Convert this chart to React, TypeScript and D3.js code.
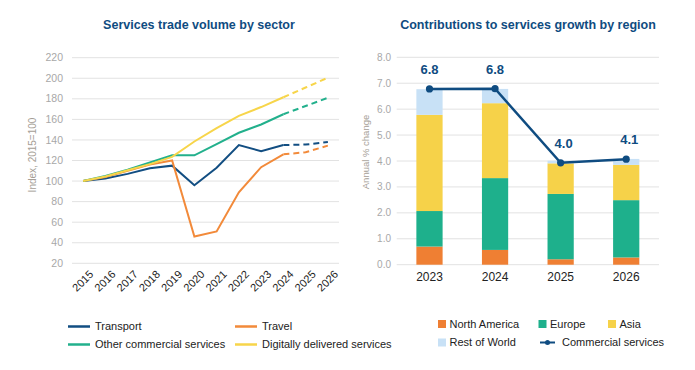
import * as d3 from "d3";

// left chart: index, 2015=100
const years = ["2015", "2016", "2017", "2018", "2019", "2020", "2021", "2022", "2023", "2024", "2025", "2026"];
const transport = [100, 102.5, 107, 112.5, 115, 96, 113, 135, 129, 135, 135.5, 138];
const travel = [100, 104, 110, 116, 120, 46, 51, 89, 113.5, 126, 128, 134.5];
const otherCommercial = [100, 105, 111, 118, 125, 125, 136, 147, 155, 165, 173, 181];
const digital = [100, 104.5, 110.5, 116.5, 123.5, 138.5, 151.5, 163.5, 172, 181.5, 191, 200.5];
const leftTicks = [20, 40, 60, 80, 100, 120, 140, 160, 180, 200, 220];
const forecastFrom = "2024";

// right chart: contributions, annual % change
const regionYears = ["2023", "2024", "2025", "2026"];
const northAmerica = [0.7, 0.57, 0.21, 0.28];
const europe = [1.37, 2.77, 2.52, 2.21];
const asia = [3.71, 2.89, 1.18, 1.36];
const restOfWorld = [0.99, 0.55, 0.1, 0.23];
const commercial = [6.78, 6.79, 3.93, 4.07];
const commercialLabels = ["6.8", "6.8", "4.0", "4.1"];
const rightTicks = [0, 1, 2, 3, 4, 5, 6, 7, 8];

const FONT = "'Liberation Sans', Arial, sans-serif";
const NAVY = "#0f4c81";
const GRID = "#e2e2e2";
const TICK = "#a8a8a8";
const TEXT = "#222";

const lineSeries = [
  { name: "Transport", values: transport, color: "#124e82" },
  { name: "Travel", values: travel, color: "#f28a3a" },
  { name: "Other commercial services", values: otherCommercial, color: "#22b08c" },
  { name: "Digitally delivered services", values: digital, color: "#f7d54a" },
];

const regions = [
  { key: "na", name: "North America", values: northAmerica, color: "#ef7f33" },
  { key: "eu", name: "Europe", values: europe, color: "#1eb08c" },
  { key: "asia", name: "Asia", values: asia, color: "#f6d249" },
  { key: "row", name: "Rest of World", values: restOfWorld, color: "#c8e1f6" },
];

function LeftChart() {
  const x = d3.scalePoint<string>().domain(years).range([72, 339]).padding(0.5);
  const y = d3.scaleLinear().domain([20, 220]).range([263.3, 57.7]);
  const split = years.indexOf(forecastFrom);
  const line = d3
    .line<[string, number]>()
    .x((d) => x(d[0])!)
    .y((d) => y(d[1]));

  return (
    <g>
      <text x={199} y={29} textAnchor="middle" fontWeight="bold" fontSize={12.5} fill={NAVY}>
        Services trade volume by sector
      </text>
      {leftTicks.map((t) => (
        <g key={t}>
          <line x1={72} x2={339} y1={y(t)} y2={y(t)} stroke={GRID} strokeWidth={1} />
          <text x={63} y={y(t)} dy="0.35em" textAnchor="end" fontSize={10.5} fill={TICK}>
            {t}
          </text>
        </g>
      ))}
      <text
        transform={`translate(36,155) rotate(-90)`}
        textAnchor="middle"
        fontSize={10}
        fill="#a59e96"
      >
        Index, 2015=100
      </text>
      {years.map((yr) => (
        <text
          key={yr}
          transform={`translate(${x(yr)! + 11},${275}) rotate(-45)`}
          textAnchor="end"
          fontSize={11}
          fill={TEXT}
        >
          {yr}
        </text>
      ))}
      {lineSeries.map((s) => {
        const pts = years.map((yr, i) => [yr, s.values[i]] as [string, number]);
        return (
          <g key={s.name}>
            <path d={line(pts.slice(0, split + 1))!} fill="none" stroke={s.color} strokeWidth={2} />
            <path
              d={line(pts.slice(split))!}
              fill="none"
              stroke={s.color}
              strokeWidth={2}
              strokeDasharray="6,4"
            />
          </g>
        );
      })}
      {lineSeries.map((s, i) => {
        const lx = i % 2 === 0 ? 68 : 235;
        const ly = i < 2 ? 326.5 : 344.5;
        return (
          <g key={s.name}>
            <line x1={lx} x2={lx + 22} y1={ly} y2={ly} stroke={s.color} strokeWidth={2.5} />
            <text x={lx + 27} y={ly} dy="0.35em" fontSize={11} fill={TEXT}>
              {s.name}
            </text>
          </g>
        );
      })}
    </g>
  );
}

function RightChart() {
  const x = d3.scaleBand<string>().domain(regionYears).range([396.7, 659]).paddingInner(0.6).paddingOuter(0.3);
  const y = d3.scaleLinear().domain([0, 8]).range([264.7, 57.3]);
  const stackData = regionYears.map((yr, i) => {
    const row: Record<string, number | string> = { year: yr };
    regions.forEach((r) => (row[r.key] = r.values[i]));
    return row;
  });
  const stacked = d3.stack<Record<string, number | string>>().keys(regions.map((r) => r.key))(stackData as any);
  const cx = (yr: string) => x(yr)! + x.bandwidth() / 2;
  const line = d3
    .line<number>()
    .x((_, i) => cx(regionYears[i]))
    .y((d) => y(d));

  return (
    <g>
      <text x={528} y={29} textAnchor="middle" fontWeight="bold" fontSize={12.5} fill={NAVY}>
        Contributions to services growth by region
      </text>
      {rightTicks.map((t) => (
        <g key={t}>
          <line x1={396.7} x2={659} y1={y(t)} y2={y(t)} stroke={GRID} strokeWidth={1} />
          <text x={391} y={y(t)} dy="0.35em" textAnchor="end" fontSize={10} fill={TICK}>
            {t.toFixed(1)}
          </text>
        </g>
      ))}
      <text transform={`translate(369,152) rotate(-90)`} textAnchor="middle" fontSize={9.5} fill="#a59e96">
        Annual % change
      </text>
      {stacked.map((layer, li) => (
        <g key={layer.key} fill={regions[li].color}>
          {layer.map((d, i) => (
            <rect
              key={regionYears[i]}
              x={x(regionYears[i])}
              width={x.bandwidth()}
              y={y(d[1])}
              height={y(d[0]) - y(d[1])}
            />
          ))}
        </g>
      ))}
      {regionYears.map((yr) => (
        <text key={yr} x={cx(yr)} y={277} dy="0.35em" textAnchor="middle" fontSize={12} fill={TEXT}>
          {yr}
        </text>
      ))}
      <path d={line(commercial)!} fill="none" stroke={NAVY} strokeWidth={2.5} />
      {commercial.map((v, i) => (
        <g key={i}>
          <circle cx={cx(regionYears[i])} cy={y(v)} r={3.6} fill={NAVY} />
          <text
            x={cx(regionYears[i]) + (i >= 2 ? 3 : 0)}
            y={y(v) - 15}
            textAnchor="middle"
            fontWeight="bold"
            fontSize={13}
            fill={NAVY}
          >
            {commercialLabels[i]}
          </text>
        </g>
      ))}
      {regions.map((r, i) => {
        const pos = [
          [438, 324],
          [538.5, 324],
          [608, 324],
          [438, 342.5],
        ][i];
        return (
          <g key={r.key}>
            <rect x={pos[0]} y={pos[1] - 4} width={8} height={8} fill={r.color} />
            <text x={pos[0] + 11.5} y={pos[1]} dy="0.35em" fontSize={11} fill={TEXT}>
              {r.name}
            </text>
          </g>
        );
      })}
      <line x1={540} x2={555} y1={342.5} y2={342.5} stroke={NAVY} strokeWidth={2} />
      <circle cx={547.5} cy={342.5} r={2.5} fill={NAVY} />
      <text x={562} y={342.5} dy="0.35em" fontSize={11} fill={TEXT}>
        Commercial services
      </text>
    </g>
  );
}

export default function App() {
  return (
    <svg width={695} height={370} style={{ position: "absolute", left: 0, top: 0, fontFamily: FONT, background: "#fff" }}>
      <rect width={695} height={370} fill="#fff" />
      <LeftChart />
      <RightChart />
    </svg>
  );
}
